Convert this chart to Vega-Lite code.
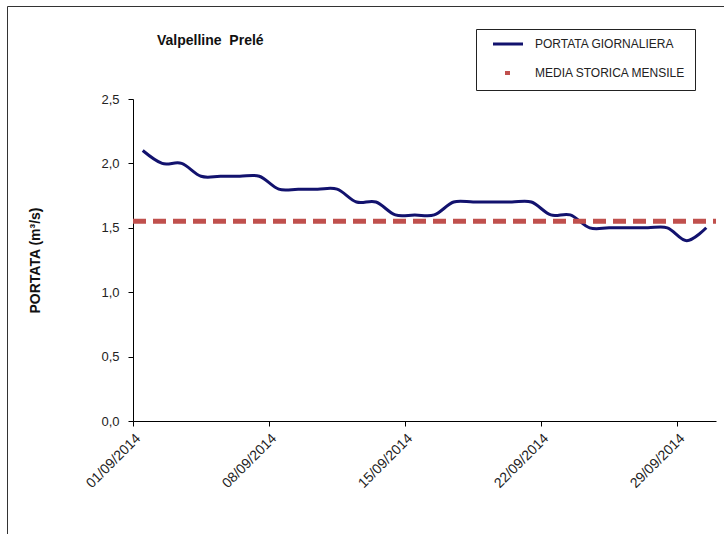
{
  "$schema": "https://vega.github.io/schema/vega-lite/v6.json",
  "width": 717,
  "height": 528,
  "autosize": "none",
  "padding": {"left": 7, "top": 6, "right": 0, "bottom": 0},
  "background": "white",
  "title": {
    "text": "Valpelline \u00a0Prelé",
    "anchor": "start",
    "frame": "group",
    "dx": 150,
    "dy": 42,
    "offset": 0,
    "fontSize": 14,
    "fontWeight": "bold",
    "font": "Liberation Sans",
    "color": "#111111"
  },
  "config": {
    "font": "Liberation Sans",
    "view": {"stroke": "#333333", "strokeWidth": 1}
  },
  "layer": [
    {
      "data": {
        "values": [
          {"giorno": "2014-09-01", "portata": 2.1},
          {"giorno": "2014-09-02", "portata": 2.0},
          {"giorno": "2014-09-03", "portata": 2.0},
          {"giorno": "2014-09-04", "portata": 1.9},
          {"giorno": "2014-09-05", "portata": 1.9},
          {"giorno": "2014-09-06", "portata": 1.9},
          {"giorno": "2014-09-07", "portata": 1.9},
          {"giorno": "2014-09-08", "portata": 1.8},
          {"giorno": "2014-09-09", "portata": 1.8},
          {"giorno": "2014-09-10", "portata": 1.8},
          {"giorno": "2014-09-11", "portata": 1.8},
          {"giorno": "2014-09-12", "portata": 1.7},
          {"giorno": "2014-09-13", "portata": 1.7},
          {"giorno": "2014-09-14", "portata": 1.6},
          {"giorno": "2014-09-15", "portata": 1.6},
          {"giorno": "2014-09-16", "portata": 1.6},
          {"giorno": "2014-09-17", "portata": 1.7},
          {"giorno": "2014-09-18", "portata": 1.7},
          {"giorno": "2014-09-19", "portata": 1.7},
          {"giorno": "2014-09-20", "portata": 1.7},
          {"giorno": "2014-09-21", "portata": 1.7},
          {"giorno": "2014-09-22", "portata": 1.6},
          {"giorno": "2014-09-23", "portata": 1.6},
          {"giorno": "2014-09-24", "portata": 1.5},
          {"giorno": "2014-09-25", "portata": 1.5},
          {"giorno": "2014-09-26", "portata": 1.5},
          {"giorno": "2014-09-27", "portata": 1.5},
          {"giorno": "2014-09-28", "portata": 1.5},
          {"giorno": "2014-09-29", "portata": 1.4},
          {"giorno": "2014-09-30", "portata": 1.5}
        ],
        "format": {"parse": {"giorno": "date:'%Y-%m-%d'"}}
      },
      "mark": {"type": "line", "interpolate": "cardinal", "strokeWidth": 3},
      "encoding": {
        "x": {
          "field": "giorno",
          "type": "temporal",
          "timeUnit": "yearmonthdate",
          "bandPosition": 0.5,
          "scale": {
            "domain": [
              {"year": 2014, "month": 9, "date": 1},
              {"year": 2014, "month": 10, "date": 1}
            ],
            "range": [126, 709]
          },
          "axis": {
            "values": [
              {"year": 2014, "month": 9, "date": 1},
              {"year": 2014, "month": 9, "date": 8},
              {"year": 2014, "month": 9, "date": 15},
              {"year": 2014, "month": 9, "date": 22},
              {"year": 2014, "month": 9, "date": 29}
            ],
            "format": "%d/%m/%Y",
            "labelAngle": -45,
            "labelFlush": false,
            "labelOverlap": false,
            "title": null,
            "grid": false,
            "offset": -113,
            "domainColor": "#000000",
            "tickColor": "#000000",
            "tickSize": 5,
            "labelFontSize": 14,
            "labelColor": "#222222",
            "labelPadding": 5
          }
        },
        "y": {
          "field": "portata",
          "type": "quantitative",
          "scale": {"domain": [0, 2.5], "range": [415, 93], "nice": false},
          "axis": {
            "values": [0, 0.5, 1, 1.5, 2, 2.5],
            "labelExpr": "replace(format(datum.value, '.1f'), '.', ',')",
            "title": "PORTATA (m³/s)",
            "titleFontWeight": "bold",
            "titleFontSize": 14,
            "titleColor": "#111111",
            "titlePadding": 58,
            "offset": -126,
            "grid": false,
            "domainColor": "#000000",
            "tickColor": "#000000",
            "tickSize": 5,
            "labelPadding": 9,
            "labelFontSize": 13,
            "labelColor": "#222222"
          }
        },
        "color": {
          "datum": "PORTATA GIORNALIERA",
          "scale": {
            "domain": ["PORTATA GIORNALIERA", "MEDIA STORICA MENSILE"],
            "range": ["#12126e", "#c0504d"]
          },
          "legend": {
            "orient": "none",
            "legendX": 469,
            "legendY": 23,
            "title": null,
            "symbolType": "stroke",
            "symbolSize": 900,
            "symbolStrokeWidth": 3,
            "symbolOffset": 17,
            "labelFontSize": 12,
            "labelColor": "#222222",
            "labelOffset": 21,
            "padding": 9,
            "rowPadding": 15,
            "strokeColor": "#222222",
            "fillColor": "white",
            "encode": {
              "symbols": {
                "update": {
                  "strokeDash": {"signal": "datum.value === 'MEDIA STORICA MENSILE' ? [5, 40] : [1, 0]"},
                  "strokeDashOffset": {"signal": "datum.value === 'MEDIA STORICA MENSILE' ? -12 : 0"},
                  "strokeWidth": {"signal": "datum.value === 'MEDIA STORICA MENSILE' ? 4 : 3"}
                }
              }
            }
          }
        }
      }
    },
    {
      "data": {
        "values": [{"inizio": "2014-09-01", "fine": "2014-10-01", "media": 1.55}],
        "format": {"parse": {"inizio": "date:'%Y-%m-%d'", "fine": "date:'%Y-%m-%d'"}}
      },
      "mark": {"type": "rule", "strokeWidth": 5, "strokeDash": [13, 7]},
      "encoding": {
        "x": {"field": "inizio", "type": "temporal"},
        "x2": {"field": "fine"},
        "y": {"field": "media", "type": "quantitative"},
        "color": {"datum": "MEDIA STORICA MENSILE"}
      }
    }
  ]
}
